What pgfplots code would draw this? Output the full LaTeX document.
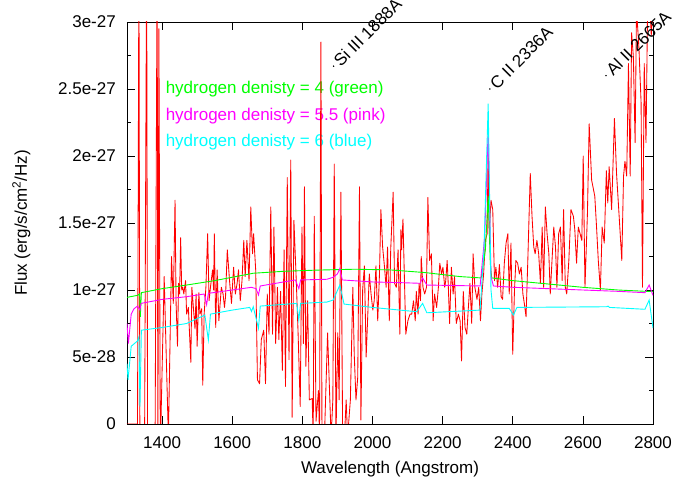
\documentclass[border=0pt]{standalone}
\usepackage{fontspec}
\setmainfont{Liberation Sans}
\usepackage{pgfplots}
\pgfplotsset{compat=1.18}
\newcommand\f{\fontsize{17}{20}\selectfont}
\definecolor{cred}{RGB}{255,0,0}
\definecolor{cgreen}{RGB}{0,255,0}
\definecolor{cmag}{RGB}{255,0,255}
\definecolor{ccyan}{RGB}{0,255,255}
\begin{document}
\begin{tikzpicture}
\begin{axis}[
  name=ax,
  width=526pt, height=402pt, scale only axis,
  clip mode=individual,
  xmin=1300, xmax=2800, ymin=0, ymax=3,
  xtick={1400,1600,...,2800},
  ytick={0,0.5,1,1.5,2,2.5,3},
  yticklabels={0,5e-28,1e-27,1.5e-27,2e-27,2.5e-27,3e-27},
  minor y tick num=1,
  xtick pos=both, ytick pos=both, ticklabel pos=left,
  tick align=inside,
  major tick length=8pt, minor tick length=4pt,
  every tick/.style={black, line width=0.6pt},
  axis line style={line width=0.8pt},
  /pgf/number format/assume math mode=true,
  /pgf/number format/1000 sep={},
  scaled ticks=false,
  tick label style={font=\f},
  yticklabel style={inner sep=0pt, anchor=east, xshift=-11pt},
  xticklabel style={inner sep=0pt, anchor=north, yshift=-12pt},
  every axis x label/.style={at={(rel axis cs:0.5,0)}, yshift=-50pt, anchor=base, font=\f},
  every axis y label/.style={at={(rel axis cs:0,0.5)}, xshift=-100pt, rotate=90, anchor=base, font=\f},
  xlabel={Wavelength (Angstrom)},
  ylabel={Flux (erg/s/cm\textsuperscript{2}/Hz)},
]
% labels (text)
\node[anchor=west, text=cgreen, font=\f, inner sep=0] at (axis cs:1410,2.5) {hydrogen denisty = 4 (green)};
\node[anchor=west, text=cmag, font=\f, inner sep=0] at (axis cs:1410,2.3) {hydrogen denisty = 5.5 (pink)};
\node[anchor=west, text=ccyan, font=\f, inner sep=0] at (axis cs:1410,2.1) {hydrogen denisty = 6 (blue)};
% observed spectrum
\addplot[cred, line width=0.85pt, line join=round] coordinates {
(1300,0) (1310,0) (1320,0) (1330,0) (1334,3.5) (1337,-0.5) (1342,-0.3) (1350,-0.2)
(1356,3.5) (1359,-0.5) (1370,-0.3) (1380,-0.2) (1386,3.5) (1388,-0.3) (1391,2.95)
(1395,-0.2) (1406,1.1) (1418,-0.1) (1427,1.25) (1432,0.90) (1437,1.67) (1440,0.90)
(1444,0.58) (1447,1.05) (1450,0.97) (1453,1.39) (1456,1.00) (1459,1.02) (1462,0.97)
(1467,1.07) (1470,0.82) (1475,0.87) (1482,0.46) (1485,1.02) (1489,0.88) (1494,0.71)
(1497,0.97) (1500,0.58) (1505,0.98) (1508,0.82) (1513,0.86) (1516,0.29) (1520,0.82)
(1525,1.02) (1530,1.42) (1534,0.92) (1538,1.02) (1544,1.15) (1547,1.00) (1549,1.42)
(1553,0.72) (1557,1.15) (1562,0.77) (1569,1.02) (1574,0.97) (1578,0.87) (1581,0.95)
(1586,1.30) (1593,1.05) (1598,0.90) (1604,1.17) (1609,0.97) (1614,1.05) (1618,1.15)
(1623,0.92) (1628,1.07) (1633,1.37) (1637,1.10) (1642,1.37) (1648,1.07) (1653,1.62)
(1658,1.27) (1661,1.42) (1667,1.15) (1672,0.33) (1678,0.30) (1683,0.63) (1690,0.70)
(1695,0.30) (1700,0.97) (1705,0.67) (1710,1.62) (1715,0.67) (1719,1.47) (1724,0.60)
(1729,1.02) (1733,0.63) (1738,0.99) (1743,0.40) (1748,1.30) (1752,0.28) (1757,1.84)
(1762,0.48) (1767,1.97) (1771,0.05) (1776,1.52) (1783,1.05) (1788,0.67) (1794,0.13)
(1799,1.47) (1803,0.60) (1806,1.77) (1810,0.43) (1815,0.92) (1820,0.18) (1828,0.19)
(1831,-0.1) (1834,1.55) (1839,0.02) (1846,0.25) (1849,-0.1) (1853,2.85) (1856,-0.1)
(1863,-0.1) (1872,0.68) (1882,-0.1) (1887,0.18) (1891,1.94) (1896,-0.1) (1901,0.68)
(1905,0.18) (1910,1.73) (1915,-0.1) (1920,-0.1) (1925,0.18) (1929,-0.1) (1937,0.18)
(1944,1.02) (1948,0.52) (1953,0.18) (1958,0.35) (1963,1.77) (1967,0.03) (1972,1.00)
(1977,1.18) (1982,0.50) (1986,0.77) (1991,1.12) (1996,0.97) (2001,0.85) (2005,0.92)
(2010,1.18) (2015,0.77) (2020,1.12) (2024,1.60) (2029,1.32) (2034,1.18) (2039,1.02)
(2043,1.32) (2048,0.77) (2052,1.30) (2059,1.73) (2063,1.05) (2068,1.02) (2073,1.30)
(2078,0.67) (2081,1.45) (2083,1.30) (2087,1.53) (2092,0.99) (2095,0.67) (2101,0.77)
(2107,0.82) (2112,0.82) (2117,0.92) (2122,0.77) (2125,0.99) (2130,0.82) (2133,1.05)
(2137,0.92) (2139,1.25) (2144,1.02) (2149,0.97) (2154,1.02) (2158,1.69) (2163,1.22)
(2168,1.27) (2173,0.77) (2177,0.97) (2183,0.87) (2188,1.02) (2192,1.20) (2197,1.12)
(2201,1.17) (2206,1.02) (2209,1.07) (2213,1.22) (2216,1.05) (2220,0.75) (2225,1.17)
(2230,0.97) (2234,1.10) (2239,0.75) (2245,0.82) (2250,0.77) (2254,0.47) (2259,0.99)
(2264,0.72) (2269,0.67) (2273,0.85) (2278,1.05) (2283,0.75) (2287,1.27) (2292,1.02)
(2298,0.93) (2303,1.02) (2308,0.77) (2312,0.97) (2317,1.12) (2322,1.37) (2327,1.42)
(2330,2.07) (2333,1.42) (2338,1.67) (2343,1.60) (2348,1.07) (2352,1.17) (2357,1.02)
(2362,1.19) (2367,0.95) (2371,0.93) (2376,1.20) (2381,1.35) (2386,1.42) (2390,0.97)
(2395,1.35) (2400,0.52) (2405,1.00) (2409,1.22) (2414,1.20) (2419,1.12) (2424,1.17)
(2429,0.97) (2433,0.90) (2438,0.80) (2443,1.22) (2450,1.87) (2455,1.55) (2460,1.32)
(2464,1.27) (2469,1.37) (2474,1.27) (2479,1.05) (2484,1.47) (2488,1.02) (2493,1.62)
(2498,1.42) (2503,1.27) (2507,0.97) (2512,1.22) (2517,1.47) (2522,1.32) (2526,1.02)
(2531,1.42) (2536,1.47) (2541,1.07) (2545,1.60) (2550,1.02) (2554,0.97) (2560,1.22)
(2566,1.60) (2573,1.55) (2577,1.45) (2582,1.20) (2587,1.47) (2592,1.42) (2597,1.37)
(2601,2.00) (2606,1.02) (2613,1.57) (2618,2.24) (2625,1.82) (2634,1.70) (2639,1.47)
(2644,1.22) (2650,1.00) (2655,1.47) (2661,1.35) (2667,1.89) (2671,1.65) (2675,1.92)
(2682,1.60) (2690,2.28) (2696,1.87) (2703,1.57) (2711,1.22) (2716,1.85) (2720,1.96)
(2725,1.85) (2730,2.69) (2735,1.85) (2739,2.92) (2744,2.74) (2749,2.10) (2753,3.10)
(2760,2.80) (2766,2.40) (2770,1.02) (2775,2.69) (2780,2.10) (2785,3.20) (2790,3.20)
(2795,2.90) (2800,3.10)
};
% models
\addplot[cgreen, line width=0.9pt] coordinates {
(1300,0.945) (1330,0.96) (1336,0.97) (1338,0.80) (1341,0.98) (1400,1.01) (1470,1.037)
(1550,1.07) (1660,1.125) (1750,1.14) (1850,1.149) (1950,1.155) (2050,1.15) (2150,1.13)
(2250,1.10) (2310,1.09) (2322,1.3) (2330,1.7) (2336,1.2) (2340,1.09) (2400,1.07)
(2500,1.045) (2600,1.02) (2700,1.00) (2780,0.99) (2800,0.99)
};
\addplot[cmag, line width=0.9pt] coordinates {
(1300,0.75) (1304,0.60) (1312,0.82) (1320,0.86) (1330,0.88) (1337,0.85) (1340,0.90)
(1400,0.93) (1470,0.95) (1520,0.97) (1527,0.89) (1532,0.975) (1600,1.00) (1655,1.02)
(1668,1.01) (1675,0.963) (1680,1.03) (1780,1.075) (1790,1.01) (1795,1.075) (1870,1.08)
(1888,1.095) (1900,1.12) (1907,1.16) (1914,1.075) (2000,1.06) (2078,1.055) (2136,1.05)
(2143,1.09) (2155,1.037) (2307,1.03) (2320,1.4) (2330,2.2) (2338,1.1) (2345,1.03)
(2402,1.02) (2500,1.01) (2649,0.995) (2700,0.99) (2777,0.98) (2789,1.037) (2800,0.96)
};
\addplot[ccyan, line width=0.9pt] coordinates {
(1300,0.45) (1303,0.33) (1312,0.58) (1330,0.62) (1334,0.65) (1337,0.13) (1341,0.70)
(1400,0.72) (1470,0.75) (1522,0.813) (1532,0.627) (1538,0.82) (1600,0.85) (1650,0.87)
(1655,0.84) (1660,0.875) (1675,0.714) (1680,0.88) (1784,0.90) (1790,0.776) (1795,0.90)
(1870,0.91) (1888,0.925) (1907,1.037) (1919,0.895) (2000,0.87) (2078,0.85) (2126,0.838)
(2143,0.90) (2155,0.83) (2307,0.85) (2318,1.3) (2330,2.39) (2338,1.0) (2343,0.863)
(2390,0.863) (2402,0.813) (2412,0.87) (2668,0.875) (2672,0.88) (2676,0.87) (2777,0.856)
(2789,0.925) (2800,0.716)
};
% line labels
\addplot[only marks, mark=*, mark size=0.5pt, black] coordinates {(1889,2.67) (2335,2.50) (2666,2.60)};
\node[anchor=west, rotate=45, font=\f, inner xsep=4pt, inner ysep=0pt] at (axis cs:1889,2.67) {Si III 1888A};
\node[anchor=west, rotate=45, font=\f, inner xsep=4pt, inner ysep=0pt] at (axis cs:2335,2.50) {C II 2336A};
\node[anchor=west, rotate=45, font=\f, inner xsep=4pt, inner ysep=0pt] at (axis cs:2666,2.60) {Al II 2665A};
\end{axis}
\pgfresetboundingbox
\path[use as bounding box] ([xshift=-127pt,yshift=-54pt]ax.south west) rectangle ([xshift=21pt,yshift=22pt]ax.north east);
\end{tikzpicture}
\end{document}
